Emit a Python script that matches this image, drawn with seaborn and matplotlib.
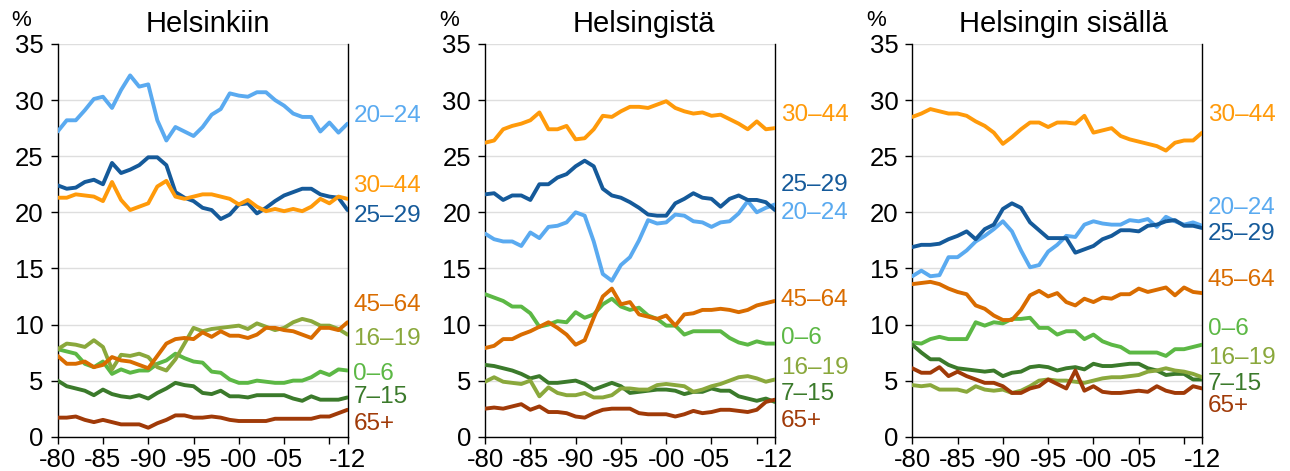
import numpy as np
import pandas as pd
import matplotlib
matplotlib.use("Agg")
import matplotlib.pyplot as plt
import seaborn as sns

years = list(range(1980, 2013))
groups = ["0–6", "7–15", "16–19", "20–24", "25–29", "30–44", "45–64", "65+"]
titles = ["Helsinkiin", "Helsingistä", "Helsingin sisällä"]

# Panel 1: Helsinkiin
p1_0_6 = [7.8, 7.6, 7.4, 6.5, 6.2, 6.7, 5.6, 6.0, 5.7, 5.9, 5.9, 6.5, 6.8, 7.4, 7.0, 6.7, 6.6, 5.8, 5.7, 5.1, 4.8, 4.8, 5.0, 4.9, 4.8, 4.8, 5.0, 5.0, 5.3, 5.8, 5.5, 6.0, 5.9]
p1_7_15 = [5.0, 4.5, 4.3, 4.1, 3.7, 4.2, 3.8, 3.6, 3.5, 3.7, 3.4, 3.9, 4.3, 4.8, 4.6, 4.5, 3.9, 3.8, 4.1, 3.6, 3.6, 3.5, 3.7, 3.7, 3.7, 3.7, 3.4, 3.2, 3.6, 3.3, 3.3, 3.3, 3.5]
p1_16_19 = [7.8, 8.3, 8.2, 8.0, 8.6, 8.0, 6.0, 7.3, 7.2, 7.4, 7.1, 6.2, 5.9, 6.9, 8.3, 9.7, 9.4, 9.6, 9.7, 9.8, 9.9, 9.6, 10.1, 9.8, 9.5, 9.7, 10.2, 10.5, 10.3, 9.9, 9.9, 9.6, 9.1]
p1_20_24 = [27.2, 28.2, 28.2, 29.1, 30.1, 30.3, 29.3, 30.9, 32.2, 31.2, 31.4, 28.2, 26.4, 27.6, 27.2, 26.8, 27.6, 28.7, 29.2, 30.6, 30.4, 30.3, 30.7, 30.7, 30.0, 29.5, 28.8, 28.5, 28.5, 27.2, 28.0, 27.1, 27.9]
p1_25_29 = [22.4, 22.1, 22.2, 22.7, 22.9, 22.5, 24.4, 23.5, 23.8, 24.2, 24.9, 24.9, 24.2, 21.8, 21.3, 21.0, 20.4, 20.2, 19.4, 19.8, 20.7, 20.8, 19.9, 20.4, 21.0, 21.5, 21.8, 22.1, 22.1, 21.6, 21.4, 21.3, 20.2]
p1_30_44 = [21.3, 21.3, 21.6, 21.5, 21.4, 21.0, 22.7, 21.1, 20.2, 20.5, 20.8, 22.3, 22.8, 21.4, 21.2, 21.4, 21.6, 21.6, 21.4, 21.2, 20.7, 21.1, 20.5, 20.1, 20.3, 20.1, 20.3, 20.1, 20.5, 21.2, 20.8, 21.4, 21.2]
p1_45_64 = [7.2, 6.5, 6.5, 6.7, 6.2, 6.4, 7.1, 6.8, 6.7, 6.4, 6.1, 7.2, 8.3, 8.7, 8.8, 8.7, 9.3, 8.9, 9.4, 9.0, 9.0, 8.8, 9.1, 9.7, 9.7, 9.5, 9.4, 9.1, 8.8, 9.7, 9.7, 9.5, 10.2]
p1_65 = [1.7, 1.7, 1.8, 1.5, 1.3, 1.5, 1.3, 1.1, 1.1, 1.1, 0.8, 1.2, 1.5, 1.9, 1.9, 1.7, 1.7, 1.8, 1.7, 1.5, 1.4, 1.4, 1.4, 1.4, 1.6, 1.6, 1.6, 1.6, 1.6, 1.8, 1.8, 2.1, 2.4]

# Panel 2: Helsingistä
p2_0_6 = [12.7, 12.4, 12.1, 11.6, 11.6, 11.0, 9.8, 10.0, 10.3, 10.2, 11.1, 10.6, 10.9, 11.8, 12.3, 11.6, 11.3, 11.5, 10.8, 10.5, 9.9, 9.9, 9.1, 9.4, 9.4, 9.4, 9.4, 8.8, 8.4, 8.2, 8.5, 8.3, 8.3]
p2_7_15 = [6.4, 6.3, 6.1, 5.9, 5.6, 5.2, 5.4, 4.8, 4.8, 4.9, 5.0, 4.7, 4.2, 4.5, 4.8, 4.5, 3.9, 4.0, 4.1, 4.2, 4.2, 4.1, 3.8, 4.0, 4.0, 4.3, 4.1, 4.1, 3.6, 3.4, 3.2, 3.4, 3.1]
p2_16_19 = [4.9, 5.3, 4.9, 4.8, 4.7, 5.0, 3.6, 4.4, 3.9, 3.7, 3.7, 3.9, 3.5, 3.5, 3.7, 4.3, 4.3, 4.2, 4.2, 4.6, 4.7, 4.6, 4.5, 4.0, 4.2, 4.5, 4.7, 5.0, 5.3, 5.4, 5.2, 4.9, 5.1]
p2_20_24 = [18.1, 17.6, 17.4, 17.4, 17.0, 18.2, 17.7, 18.7, 18.8, 19.1, 20.0, 19.7, 17.4, 14.5, 13.9, 15.3, 16.0, 17.5, 19.3, 19.0, 19.1, 19.8, 19.7, 19.2, 19.1, 18.7, 19.1, 19.2, 19.9, 21.0, 20.0, 20.4, 20.7]
p2_25_29 = [21.6, 21.7, 21.1, 21.5, 21.5, 21.1, 22.5, 22.5, 23.1, 23.4, 24.1, 24.6, 24.1, 22.1, 21.5, 21.3, 20.9, 20.4, 19.8, 19.7, 19.7, 20.8, 21.2, 21.7, 21.3, 21.2, 20.5, 21.2, 21.5, 21.1, 21.1, 20.9, 20.2]
p2_30_44 = [26.2, 26.4, 27.4, 27.7, 27.9, 28.2, 28.9, 27.4, 27.4, 27.7, 26.5, 26.6, 27.4, 28.6, 28.5, 29.0, 29.4, 29.4, 29.3, 29.6, 29.9, 29.3, 29.0, 28.8, 28.9, 28.6, 28.7, 28.3, 27.9, 27.4, 28.1, 27.4, 27.5]
p2_45_64 = [7.9, 8.1, 8.7, 8.7, 9.1, 9.4, 9.8, 10.2, 9.7, 9.1, 8.2, 8.6, 10.6, 12.5, 13.2, 11.8, 12.0, 10.9, 10.7, 10.5, 10.8, 9.9, 10.9, 11.0, 11.3, 11.3, 11.4, 11.3, 11.1, 11.3, 11.7, 11.9, 12.1]
p2_65 = [2.5, 2.6, 2.5, 2.7, 2.9, 2.4, 2.7, 2.2, 2.2, 2.1, 1.8, 1.7, 2.1, 2.4, 2.5, 2.5, 2.5, 2.1, 2.0, 2.0, 2.0, 1.8, 2.0, 2.3, 2.1, 2.2, 2.4, 2.4, 2.3, 2.2, 2.4, 3.1, 3.3]

# Panel 3: Helsingin sisällä
p3_0_6 = [8.4, 8.3, 8.7, 8.9, 8.7, 8.7, 8.7, 10.2, 9.9, 10.2, 10.1, 10.5, 10.5, 10.6, 9.7, 9.7, 9.1, 9.4, 9.4, 8.7, 9.1, 8.5, 8.2, 8.0, 7.5, 7.5, 7.5, 7.5, 7.2, 7.8, 7.8, 8.0, 8.2]
p3_7_15 = [8.2, 7.5, 6.9, 6.9, 6.4, 6.1, 6.0, 5.9, 5.8, 5.9, 5.4, 5.7, 5.8, 6.2, 6.3, 6.2, 5.9, 6.1, 6.2, 6.0, 6.5, 6.3, 6.3, 6.4, 6.5, 6.5, 6.1, 5.9, 5.5, 5.6, 5.6, 5.1, 5.1]
p3_16_19 = [4.6, 4.5, 4.6, 4.2, 4.2, 4.2, 4.0, 4.5, 4.2, 4.1, 4.2, 3.9, 4.1, 4.5, 5.0, 5.1, 5.0, 5.0, 4.9, 4.8, 5.0, 5.2, 5.3, 5.3, 5.4, 5.5, 5.8, 5.9, 6.1, 5.9, 5.8, 5.6, 5.3]
p3_20_24 = [14.3, 14.8, 14.3, 14.4, 16.0, 16.0, 16.6, 17.4, 17.9, 18.5, 19.2, 18.3, 16.6, 15.1, 15.3, 16.5, 17.1, 17.9, 17.8, 18.9, 19.2, 19.0, 18.9, 18.9, 19.3, 19.2, 19.4, 18.7, 19.6, 19.2, 18.9, 19.1, 18.8]
p3_25_29 = [16.9, 17.1, 17.1, 17.2, 17.6, 17.9, 18.3, 17.6, 18.5, 18.9, 20.3, 20.8, 20.4, 19.1, 18.4, 17.7, 17.7, 17.7, 16.4, 16.7, 17.0, 17.6, 17.9, 18.4, 18.4, 18.3, 18.8, 18.9, 19.2, 19.3, 18.8, 18.8, 18.6]
p3_30_44 = [28.5, 28.8, 29.2, 29.0, 28.8, 28.8, 28.6, 28.1, 27.7, 27.1, 26.1, 26.7, 27.4, 28.0, 28.0, 27.6, 28.0, 28.0, 27.9, 28.6, 27.1, 27.3, 27.5, 26.8, 26.5, 26.3, 26.1, 25.9, 25.5, 26.2, 26.4, 26.4, 27.1]
p3_45_64 = [13.6, 13.7, 13.8, 13.6, 13.2, 12.9, 12.7, 11.7, 11.4, 10.8, 10.4, 10.4, 11.3, 12.6, 13.0, 12.5, 12.8, 12.0, 11.7, 12.3, 12.0, 12.4, 12.3, 12.7, 12.7, 13.2, 12.9, 13.1, 13.3, 12.6, 13.3, 12.9, 12.8]
p3_65 = [6.1, 5.7, 5.7, 6.2, 5.4, 5.8, 5.4, 5.1, 4.8, 4.8, 4.5, 3.9, 3.9, 4.3, 4.5, 5.1, 4.7, 4.3, 5.9, 4.1, 4.5, 4.0, 3.9, 3.9, 4.0, 4.1, 4.0, 4.5, 4.1, 3.9, 3.9, 4.5, 4.3]

xtick_years = [1980, 1985, 1990, 1995, 2000, 2005, 2012]
xtick_labels = ["-80", "-85", "-90", "-95", "-00", "-05", "-12"]
yticks = [0, 5, 10, 15, 20, 25, 30, 35]

panels = [
    [p1_0_6, p1_7_15, p1_16_19, p1_20_24, p1_25_29, p1_30_44, p1_45_64, p1_65],
    [p2_0_6, p2_7_15, p2_16_19, p2_20_24, p2_25_29, p2_30_44, p2_45_64, p2_65],
    [p3_0_6, p3_7_15, p3_16_19, p3_20_24, p3_25_29, p3_30_44, p3_45_64, p3_65],
]

colors = {
    "0–6": "#5cb845",
    "7–15": "#3b7a2b",
    "16–19": "#8aa83c",
    "20–24": "#5aaaf0",
    "25–29": "#155a9a",
    "30–44": "#ff9a0a",
    "45–64": "#d96c00",
    "65+": "#a03a08",
}

# label placement (y in data units) at right side of each panel
label_y = [
    {"20–24": 28.6, "30–44": 22.3, "25–29": 19.7, "45–64": 11.7, "16–19": 8.75, "0–6": 5.6, "7–15": 3.5, "65+": 1.1},
    {"30–44": 28.7, "25–29": 22.4, "20–24": 19.9, "45–64": 12.2, "0–6": 8.8, "16–19": 6.1, "7–15": 3.8, "65+": 1.4},
    {"30–44": 28.7, "20–24": 20.4, "25–29": 18.1, "45–64": 14.0, "0–6": 9.6, "16–19": 7.0, "7–15": 4.7, "65+": 2.7},
]
title_x = [0.519, 0.549, 0.523]

sns.set_style("white")
plt.rcParams["font.family"] = ["Liberation Sans", "DejaVu Sans"]
plt.rcParams["text.color"] = "black"
plt.rcParams["xtick.color"] = "black"
plt.rcParams["ytick.color"] = "black"
plt.rcParams["xtick.labelcolor"] = "black"
plt.rcParams["ytick.labelcolor"] = "black"

fig = plt.figure(figsize=(12.9, 4.71), dpi=100)
lefts = [0.0447, 0.376, 0.7072]
for pi, (left, series) in enumerate(zip(lefts, panels)):
    ax = fig.add_axes([left, 0.0728, 0.2247, 0.8338])
    rows = []
    for g, vals in zip(groups, series):
        for y, v in zip(years, vals):
            rows.append({"year": y, "value": v, "group": g})
    df = pd.DataFrame(rows)
    ax.yaxis.grid(True, color="#dedede", linewidth=1.0)
    ax.set_axisbelow(True)
    sns.lineplot(data=df, x="year", y="value", hue="group", hue_order=groups,
                 palette=colors, linewidth=2.8, legend=False, ax=ax, zorder=3)
    ax.set_xlim(1980, 2012)
    ax.set_ylim(0, 35)
    ax.set_yticks(yticks)
    ax.set_yticklabels([str(t) for t in yticks], fontsize=18.5, color="black")
    ax.set_xticks(xtick_years)
    ax.set_xticklabels(xtick_labels, fontsize=18.5, color="black")
    ax.set_xticks([2010], minor=True)
    ax.tick_params(axis="both", which="both", direction="out", length=5, width=1,
                   color="black", pad=3, left=True, bottom=True)
    ax.tick_params(axis="y", pad=5)
    ax.set_xlabel("")
    ax.set_ylabel("")
    for side in ["left", "right", "bottom"]:
        ax.spines[side].set_visible(True)
        ax.spines[side].set_color("black")
        ax.spines[side].set_linewidth(1.0)
    ax.spines["top"].set_visible(False)
    ax.text(title_x[pi], 1.014, titles[pi], transform=ax.transAxes, fontsize=21,
            ha="center", va="bottom", color="black")
    ax.text(-0.125, 1.032, "%", transform=ax.transAxes, fontsize=16, ha="center",
            va="bottom", color="black")
    for g, yv in label_y[pi].items():
        ax.text(1.02, yv, g, transform=ax.get_yaxis_transform(), color=colors[g],
                fontsize=17.5, ha="left", va="center", clip_on=False)

fig.savefig("out.png", dpi=100)
